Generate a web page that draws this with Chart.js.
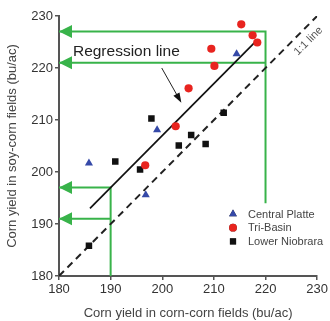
<!DOCTYPE html>
<html>
<head>
<meta charset="utf-8">
<script src="https://cdn.jsdelivr.net/npm/chart.js@4"></script>
<style>
html,body{margin:0;padding:0;background:#fff;}
#wrap{width:330px;height:321px;}
</style>
</head>
<body>
<div id="wrap"><canvas id="c" width="330" height="321"></canvas></div>
<script>
// ---- data ----
const xTicks = [180, 190, 200, 210, 220, 230];
const yTicks = [180, 190, 200, 210, 220, 230];

const centralPlatteX = [185.8, 196.8, 199.0, 214.4];
const centralPlatteY = [201.7, 195.6, 208.1, 222.7];

const triBasinX = [196.7, 202.6, 205.1, 209.5, 210.1, 215.3, 217.5, 218.4];
const triBasinY = [201.3, 208.8, 216.1, 223.7, 220.4, 228.4, 226.3, 224.9];

const lowerNiobraraX = [185.8, 190.9, 195.7, 197.9, 203.2, 205.6, 208.4, 211.9];
const lowerNiobraraY = [185.8, 202.0, 200.5, 210.3, 205.1, 207.1, 205.4, 211.4];

const regressionX = [186.0, 218.5];
const regressionY = [193.0, 225.5];

const oneToOneX = [180, 230];
const oneToOneY = [180, 230];

// green guide lines: [corn-corn yield, regression reading, 1:1 reading, bottom of vertical]
const guideX = [190, 220];
const guideRegY = [197, 227];
const guideOneY = [191, 221];
const guideBottomY = [180, 194];

const labels = ['Central Platte', 'Tri-Basin', 'Lower Niobrara'];

const zip = (xs, ys) => xs.map((x, i) => ({x: x, y: ys[i]}));

const GREEN = '#38b34a';
const datasets = [
  {label: labels[0], data: zip(centralPlatteX, centralPlatteY), pointStyle: 'triangle', pointRadius: 4.7,
   backgroundColor: '#3549a8', borderColor: '#3549a8', borderWidth: 0, isPoint: true},
  {label: labels[1], data: zip(triBasinX, triBasinY), pointStyle: 'circle', pointRadius: 4.1,
   backgroundColor: '#e8241f', borderColor: '#e8241f', borderWidth: 0, isPoint: true},
  {label: labels[2], data: zip(lowerNiobraraX, lowerNiobraraY), pointStyle: 'rect', pointRadius: 4.6,
   backgroundColor: '#111111', borderColor: '#111111', borderWidth: 0, isPoint: true},
  {label: 'Regression', data: zip(regressionX, regressionY), showLine: true, pointRadius: 0,
   borderColor: '#111', borderWidth: 1.7},
  {label: '1:1', data: zip(oneToOneX, oneToOneY), showLine: true, pointRadius: 0,
   borderColor: '#222', borderWidth: 2, borderDash: [7, 5]}
];
guideX.forEach((gx, i) => {
  datasets.push({label: 'guideA' + i,
    data: [{x: gx, y: guideBottomY[i]}, {x: gx, y: guideRegY[i]}, {x: 180, y: guideRegY[i]}],
    showLine: true, pointRadius: 0, borderColor: GREEN, borderWidth: 2, arrowY: guideRegY[i]});
  datasets.push({label: 'guideB' + i,
    data: [{x: gx, y: guideOneY[i]}, {x: 180, y: guideOneY[i]}],
    showLine: true, pointRadius: 0, borderColor: GREEN, borderWidth: 2, arrowY: guideOneY[i]});
});

// annotation positions (data coordinates)
const regLabelPos = {x: 182.7, y: 222.3};
const regArrowFrom = {x: 199.9, y: 220.0};
const regArrowTo = {x: 203.7, y: 213.3};
const oneLabelPos = {x: 228.3, y: 225.2};

const decor = {
  id: 'decor',
  afterDatasetsDraw(chart) {
    const ctx = chart.ctx, xs = chart.scales.x, ys = chart.scales.y, ca = chart.chartArea;
    ctx.save();
    // green arrowheads
    chart.data.datasets.forEach(ds => {
      if (ds.arrowY === undefined) return;
      const tx = xs.getPixelForValue(180), ty = ys.getPixelForValue(ds.arrowY);
      ctx.fillStyle = GREEN;
      ctx.beginPath();
      ctx.moveTo(tx, ty);
      ctx.lineTo(tx + 13, ty - 6.5);
      ctx.lineTo(tx + 13, ty + 6.5);
      ctx.closePath();
      ctx.fill();
    });
    // regression label + arrow
    ctx.fillStyle = '#222';
    ctx.font = '15.5px "Liberation Sans", Arial, sans-serif';
    ctx.textBaseline = 'alphabetic';
    ctx.textAlign = 'left';
    ctx.fillText('Regression line', xs.getPixelForValue(regLabelPos.x), ys.getPixelForValue(regLabelPos.y));
    const ax = xs.getPixelForValue(regArrowFrom.x), ay = ys.getPixelForValue(regArrowFrom.y);
    const bx = xs.getPixelForValue(regArrowTo.x), by = ys.getPixelForValue(regArrowTo.y);
    const ang = Math.atan2(by - ay, bx - ax);
    ctx.strokeStyle = '#222'; ctx.lineWidth = 1;
    ctx.beginPath(); ctx.moveTo(ax, ay);
    ctx.lineTo(bx - 8 * Math.cos(ang), by - 8 * Math.sin(ang)); ctx.stroke();
    ctx.beginPath();
    ctx.moveTo(bx, by);
    ctx.lineTo(bx - 10 * Math.cos(ang) + 3.5 * Math.sin(ang), by - 10 * Math.sin(ang) - 3.5 * Math.cos(ang));
    ctx.lineTo(bx - 10 * Math.cos(ang) - 3.5 * Math.sin(ang), by - 10 * Math.sin(ang) + 3.5 * Math.cos(ang));
    ctx.closePath(); ctx.fillStyle = '#111'; ctx.fill();
    // 1:1 label
    ctx.save();
    ctx.translate(xs.getPixelForValue(oneLabelPos.x), ys.getPixelForValue(oneLabelPos.y));
    ctx.rotate(-Math.PI / 4);
    ctx.font = '11px "Liberation Sans", Arial, sans-serif';
    ctx.fillStyle = '#555';
    ctx.textAlign = 'center'; ctx.textBaseline = 'middle';
    ctx.fillText('1:1 line', 0, 0);
    ctx.restore();
    // legend
    const lx = ca.left + 174, ly = ca.top + 198, rh = 13.7;
    chart.data.datasets.filter(d => d.isPoint).forEach((d, i) => {
      const y = ly + i * rh;
      Chart.helpers.drawPoint(ctx, {pointStyle: d.pointStyle, radius: d.pointRadius * 0.95, borderWidth: 0}, lx, y);
      ctx.fillStyle = d.backgroundColor; ctx.fill();
      ctx.fillStyle = '#444';
      ctx.font = '11px "Liberation Sans", Arial, sans-serif';
      ctx.textAlign = 'left'; ctx.textBaseline = 'middle';
      ctx.fillText(d.label, lx + 15, y + 0.5);
    });
    ctx.restore();
  }
};

const axisCommon = (ticks, title) => ({
  type: 'linear', min: 180, max: 230,
  afterBuildTicks: s => { s.ticks = ticks.map(v => ({value: v})); },
  grid: {display: true, drawOnChartArea: false, drawTicks: true, tickLength: 4, color: '#555', lineWidth: 1.5},
  border: {display: true, color: '#555', width: 2},
  ticks: {color: '#333', font: {size: 13, family: '"Liberation Sans", Arial, sans-serif'}, padding: 2},
  title: {display: true, text: title, color: '#444', font: {size: 13, family: '"Liberation Sans", Arial, sans-serif'}}
});

const xAxis = axisCommon(xTicks, 'Corn yield in corn-corn fields (bu/ac)');
xAxis.afterFit = s => { s.height = 45; };
xAxis.title.padding = {top: 15, bottom: 0};
const yAxis = axisCommon(yTicks, 'Corn yield in soy-corn fields (bu/ac)');
yAxis.afterFit = s => { s.width = 59; };
yAxis.title.padding = {top: 5, bottom: 4};

new Chart(document.getElementById('c'), {
  type: 'scatter',
  data: {datasets: datasets},
  options: {
    responsive: false, animation: false,
    layout: {padding: {left: 0, top: 16, right: 12, bottom: 0}},
    plugins: {legend: {display: false}, tooltip: {enabled: false}},
    scales: {x: xAxis, y: yAxis}
  },
  plugins: [decor]
});
</script>
</body>
</html>
